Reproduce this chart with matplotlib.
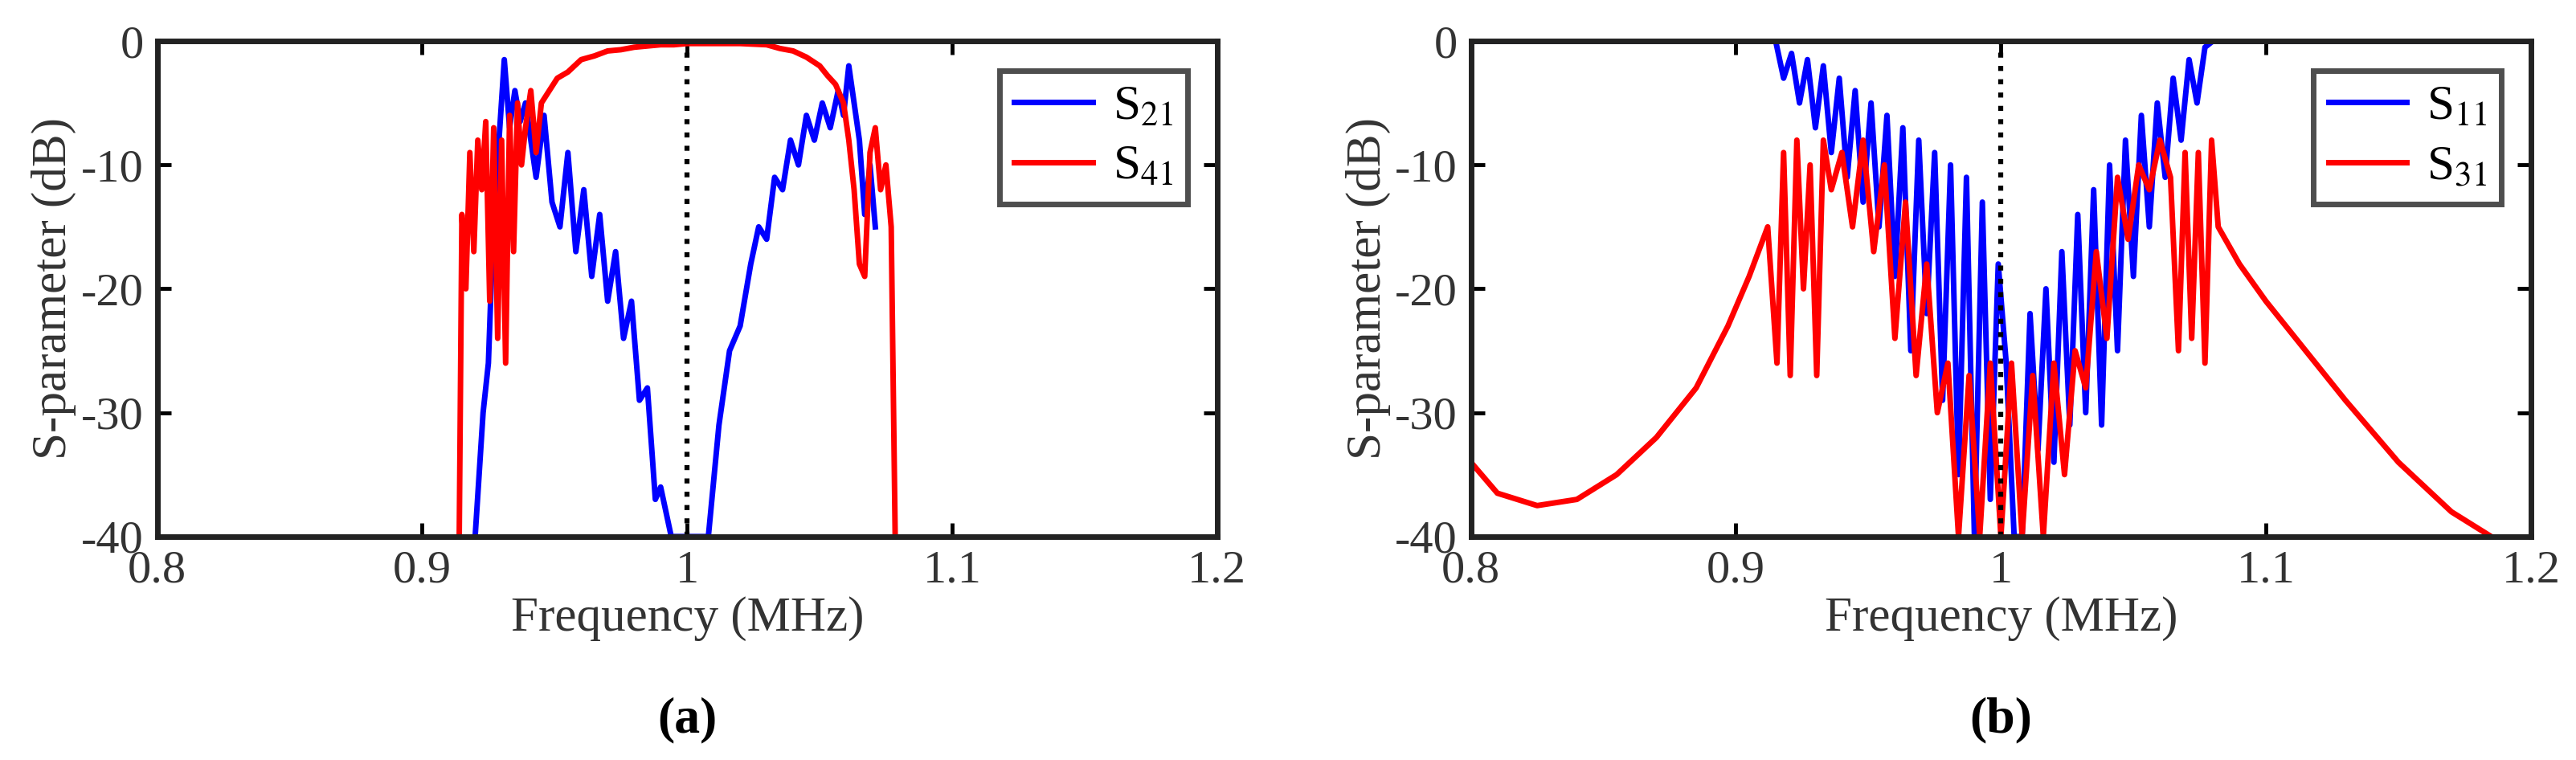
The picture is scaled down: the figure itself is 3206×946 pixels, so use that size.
import numpy as np
import matplotlib
matplotlib.use("Agg")
import matplotlib.pyplot as plt

plt.rcParams['font.family'] = ['Liberation Serif', 'DejaVu Serif']
plt.rcParams['mathtext.fontset'] = 'stix'
plt.rcParams['axes.unicode_minus'] = False

# panel (a): S21
s21_f = [0.920, 0.923, 0.925, 0.927, 0.929, 0.931, 0.933, 0.935, 0.937, 0.939, 0.941, 0.943,
         0.946, 0.949, 0.952, 0.955, 0.958, 0.961, 0.964, 0.967, 0.970, 0.973, 0.976, 0.979,
         0.982, 0.985, 0.988, 0.990, 0.992, 0.994,
         1.008, 1.012, 1.016, 1.020, 1.024, 1.027, 1.030, 1.033, 1.036, 1.039, 1.042, 1.045,
         1.048, 1.051, 1.054, 1.057, 1.059, 1.061, 1.063, 1.065, 1.067, 1.069, 1.071]
s21_db = [-40, -30, -26, -14, -8, -1.5, -7, -4, -6.5, -5, -8, -11,
          -6, -13, -15, -9, -17, -12, -19, -14, -21, -17, -24, -21,
          -29, -28, -37, -36, -38, -40,
          -40, -31, -25, -23, -18, -15, -16, -11, -12, -8, -10, -6,
          -8, -5, -7, -4, -6, -2, -5, -8, -14, -10, -15]

# panel (a): S41
s41_f = [0.9140, 0.9150, 0.9165, 0.9180, 0.9195, 0.9210, 0.9225, 0.9240, 0.9255, 0.9270,
         0.9285, 0.9300, 0.9315, 0.9330, 0.9345, 0.9360, 0.9375, 0.9390, 0.9410, 0.9430,
         0.945, 0.948, 0.951, 0.955, 0.960, 0.965, 0.970, 0.975, 0.980, 0.985, 0.990, 0.995,
         1.000, 1.010, 1.020, 1.030, 1.035, 1.040, 1.045, 1.050, 1.053, 1.056, 1.059,
         1.061, 1.063, 1.065, 1.067, 1.069, 1.071, 1.073, 1.075, 1.077, 1.0785]
s41_db = [-40, -14, -20, -9, -17, -8, -12, -6.5, -21, -7, -24, -8, -26, -6, -17, -5,
          -10, -7, -4, -9, -5, -4, -3, -2.5, -1.5, -1.2, -0.8, -0.7, -0.5, -0.4, -0.3, -0.3,
          -0.2, -0.2, -0.2, -0.3, -0.6, -0.8, -1.3, -2, -2.8, -3.5, -5,
          -8, -12, -18, -19, -9, -7, -12, -10, -15, -40]

# panel (b): S11
s11_f = [0.800, 0.915, 0.918, 0.921, 0.924, 0.927, 0.930, 0.933, 0.936, 0.939, 0.942, 0.945,
         0.948, 0.951, 0.954, 0.957, 0.960, 0.963, 0.966, 0.969, 0.972, 0.975, 0.978, 0.981,
         0.984, 0.987, 0.990, 0.993, 0.996, 0.999, 1.002, 1.005, 1.008, 1.011, 1.014, 1.017,
         1.020, 1.023, 1.026, 1.029, 1.032, 1.035, 1.038, 1.041, 1.044, 1.047, 1.050,
         1.053, 1.056, 1.059, 1.062, 1.065, 1.068, 1.071, 1.074, 1.077, 1.080, 1.200]
s11_db = [0, 0, -3, -1, -5, -1.5, -7, -2, -9, -3, -11, -4,
          -13, -5, -15, -6, -19, -7, -25, -8, -22, -9, -29, -10,
          -35, -11, -40, -13, -37, -18, -26, -40, -40, -22, -33, -20,
          -34, -17, -31, -14, -30, -12, -31, -10, -25, -8, -19,
          -6, -15, -5, -11, -3, -8, -1.5, -5, -0.5, 0, 0]

# panel (b): S31
s31_f = [0.800, 0.810, 0.825, 0.840, 0.855, 0.870, 0.885, 0.897, 0.905, 0.912,
         0.9155, 0.918, 0.9205, 0.923, 0.9255, 0.928, 0.9305, 0.933, 0.936, 0.940, 0.944,
         0.948, 0.952, 0.956, 0.960, 0.964, 0.968, 0.972, 0.976, 0.980, 0.984, 0.988,
         0.992, 0.996, 1.000, 1.004, 1.008, 1.012, 1.016, 1.020, 1.024, 1.028, 1.032,
         1.036, 1.040, 1.044, 1.048, 1.052, 1.056, 1.060, 1.064, 1.067, 1.0695, 1.072,
         1.0745, 1.077, 1.0795, 1.082, 1.090, 1.100, 1.115, 1.130, 1.150, 1.170, 1.185]
s31_db = [-34, -36.5, -37.5, -37, -35, -32, -28, -23, -19, -15,
          -26, -9, -27, -8, -20, -10, -27, -8, -12, -9, -15,
          -8, -17, -10, -24, -13, -27, -18, -30, -26, -40, -27,
          -40, -26, -40, -26, -40, -27, -40, -26, -35, -25, -28,
          -17, -24, -11, -16, -10, -12, -8, -11, -25, -9, -24,
          -9, -26, -8, -15, -18, -21, -25, -29, -34, -38, -40]

fig = plt.figure(figsize=(32.06, 9.46), dpi=100)
ax_a = fig.add_axes([0.061, 0.294, 0.4115, 0.652])
ax_b = fig.add_axes([0.571, 0.294, 0.4115, 0.652])

ax_a.plot(s21_f, s21_db, color='#0000ff', lw=5, label=r'S$_{21}$')
ax_a.plot(s41_f, s41_db, color='#ff0000', lw=5, label=r'S$_{41}$')
ax_b.plot(s11_f, s11_db, color='#0000ff', lw=5, label=r'S$_{11}$')
ax_b.plot(s31_f, s31_db, color='#ff0000', lw=5, label=r'S$_{31}$')

for ax, tag in [(ax_a, '(a)'), (ax_b, '(b)')]:
    ax.axvline(1.0, color='black', ls=':', lw=4.5)
    ax.set_xlim(0.8, 1.2)
    ax.set_ylim(-40, 0)
    ax.set_xticks([0.8, 0.9, 1.0, 1.1, 1.2])
    ax.set_xticklabels(['0.8', '0.9', '1', '1.1', '1.2'])
    ax.set_yticks([-40, -30, -20, -10, 0])
    ax.tick_params(direction='in', length=12, width=3.5, labelsize=42, pad=12,
                   top=True, right=True, labelcolor='#333333')
    for s in ax.spines.values():
        s.set_linewidth(5)
        s.set_color('#222222')
    ax.set_xlabel('Frequency (MHz)', fontsize=44, color='#333333', labelpad=4)
    ax.set_ylabel('S-parameter (dB)', fontsize=44, color='#333333', labelpad=4)
    leg = ax.legend(loc='upper right', fontsize=44, frameon=True, fancybox=False,
                    edgecolor='#222222', handlelength=1.6, borderaxespad=0.6,
                    labelspacing=0.3, handletextpad=0.4, borderpad=0.3)
    leg.get_frame().set_linewidth(5)
    ax.text(0.5, -0.37, tag, transform=ax.transAxes, ha='center', va='center',
            fontsize=46, fontweight='bold')

fig.savefig('out.png', dpi=100)
